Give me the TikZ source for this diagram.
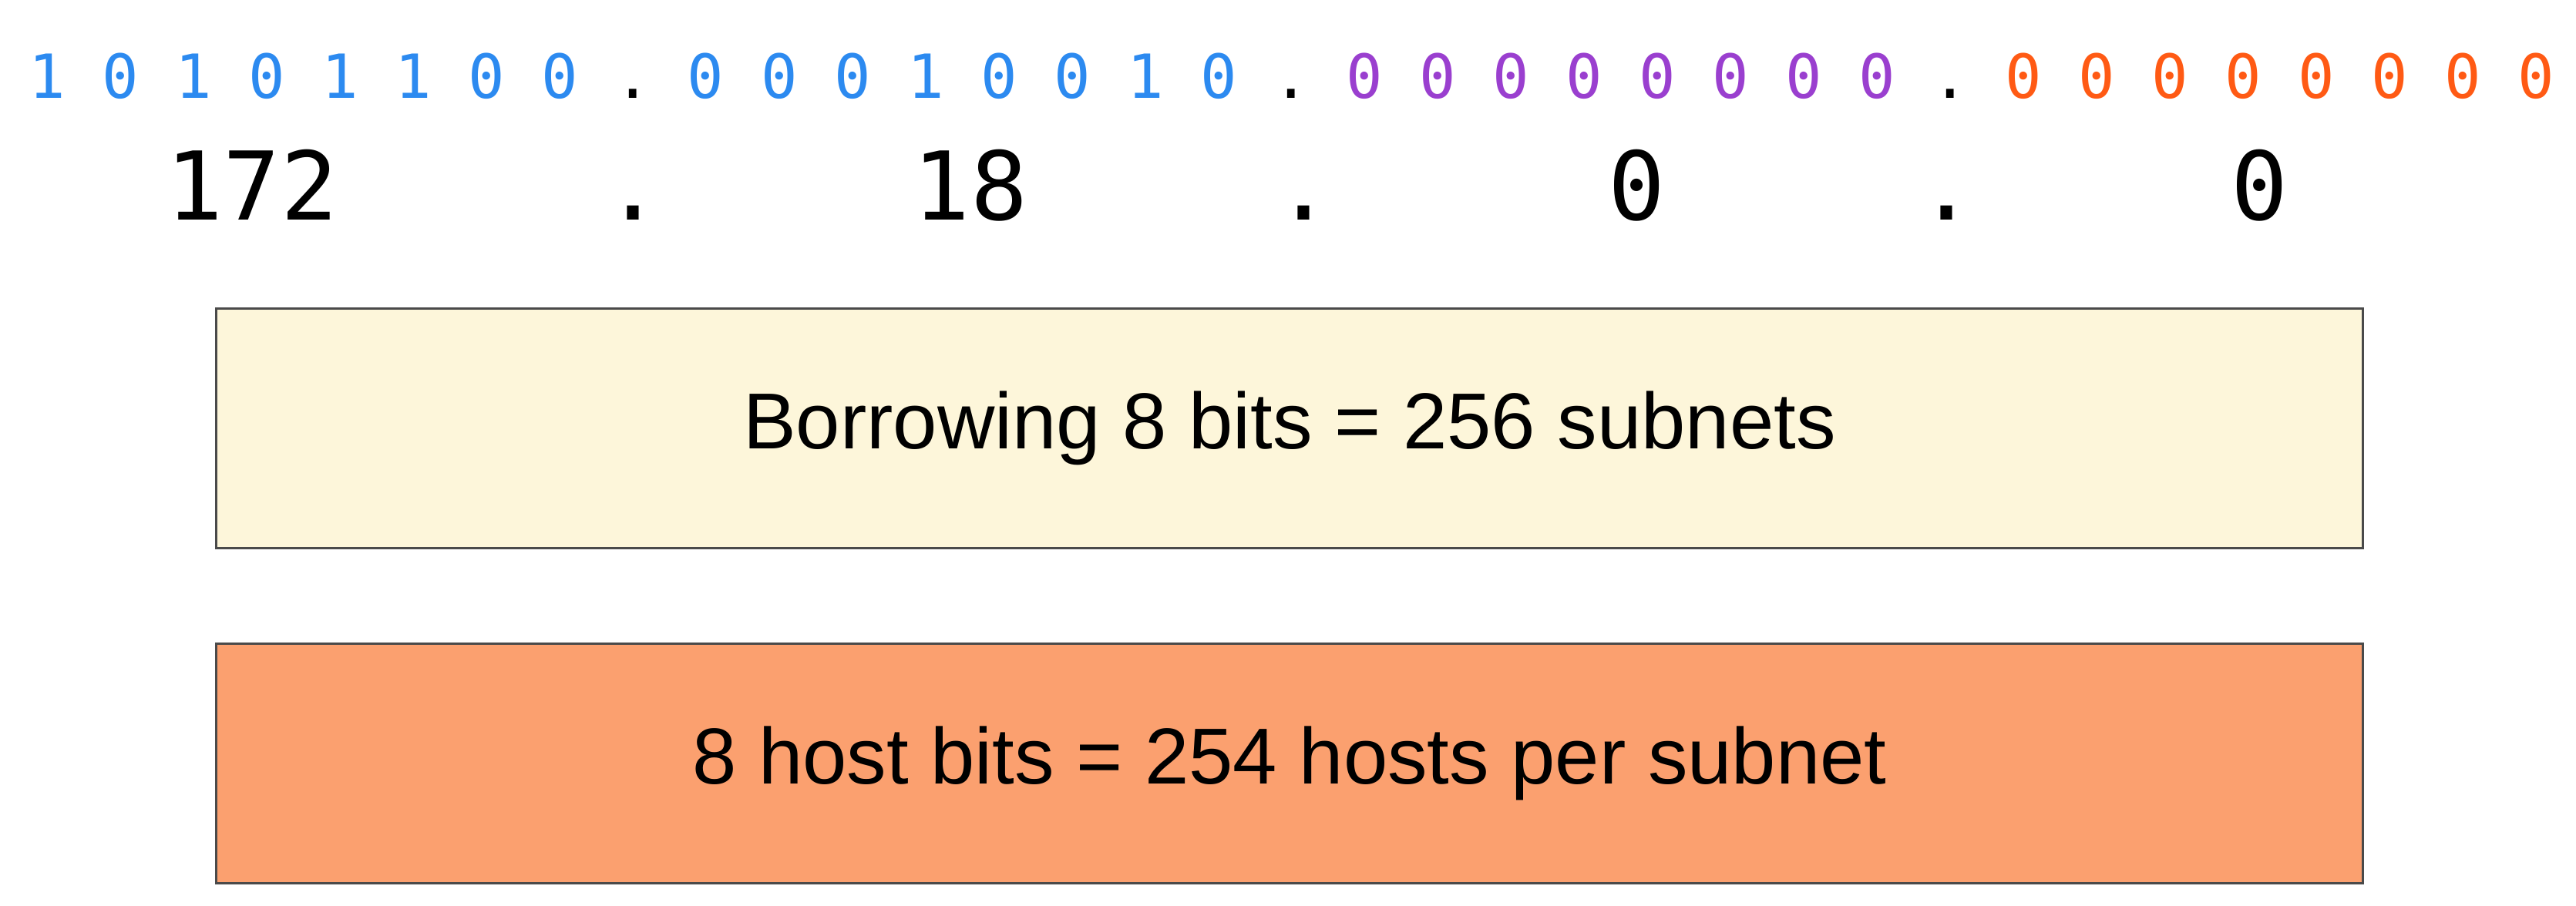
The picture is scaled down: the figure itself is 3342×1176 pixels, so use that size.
\documentclass[tikz,border=0pt]{standalone}
\usepackage{fontspec}
\setmainfont{Liberation Sans}
\newfontfamily\bitfont{DejaVu Sans Mono}
\usepackage{xcolor}
\usepackage{tikz}
\usetikzlibrary{positioning}

\definecolor{netblue}{HTML}{2C8AF0}
\definecolor{subpurple}{HTML}{9A3FCF}
\definecolor{hostorange}{HTML}{FF5A14}
\definecolor{boxyellow}{HTML}{FDF6DA}
\definecolor{boxorange}{HTML}{FBA06F}
\definecolor{boxedge}{HTML}{4A4A4A}

\begin{document}
\begin{tikzpicture}[x=0.01cm, y=-0.01cm,
    bits/.style={font=\bitfont\fontsize{22.44pt}{27pt}\selectfont, anchor=base, inner sep=0pt},
    octet/.style={font=\bitfont\fontsize{35pt}{42pt}\selectfont, anchor=base, inner sep=0pt},
    infobox/.style={draw=boxedge, line width=0.85pt, minimum width=27.84cm, minimum height=3.1cm,
        font=\fontsize{29.3pt}{35pt}\selectfont, inner sep=0pt}]
    \useasboundingbox (0, 0) rectangle (3342, 1176);

    % Binary form, cell = 47.49
    \node[bits, text=netblue] (o1) at (393.4, 128) {1 0 1 0 1 1 0 0};
    \node[bits] (p1) at (820.8, 128) {.};
    \node[bits, text=netblue] (o2) at (1248.3, 128) {0 0 0 1 0 0 1 0};
    \node[bits] (p2) at (1675.7, 128) {.};
    \node[bits, text=subpurple] (o3) at (2103.1, 128) {0 0 0 0 0 0 0 0};
    \node[bits] (p3) at (2530.6, 128) {.};
    \node[bits, text=hostorange] (o4) at (2958.0, 128) {0 0 0 0 0 0 0 0};

    % Dotted decimal
    \node[octet] (d1) at (327, 285) {172};
    \node[octet] (q1) at (822, 285) {.};
    \node[octet] (d2) at (1259, 285) {18};
    \node[octet] (q2) at (1692, 285) {.};
    \node[octet] (d3) at (2124, 285) {0};
    \node[octet] (q3) at (2526, 285) {.};
    \node[octet] (d4) at (2932, 285) {0};

    % Subnet and host boxes
    \node[infobox, fill=boxyellow] (borrow) at (1673, 556) {Borrowing 8 bits = 256 subnets};
    \node[infobox, fill=boxorange] (hosts) at (1673, 991) {8 host bits = 254 hosts per subnet};
\end{tikzpicture}
\end{document}
